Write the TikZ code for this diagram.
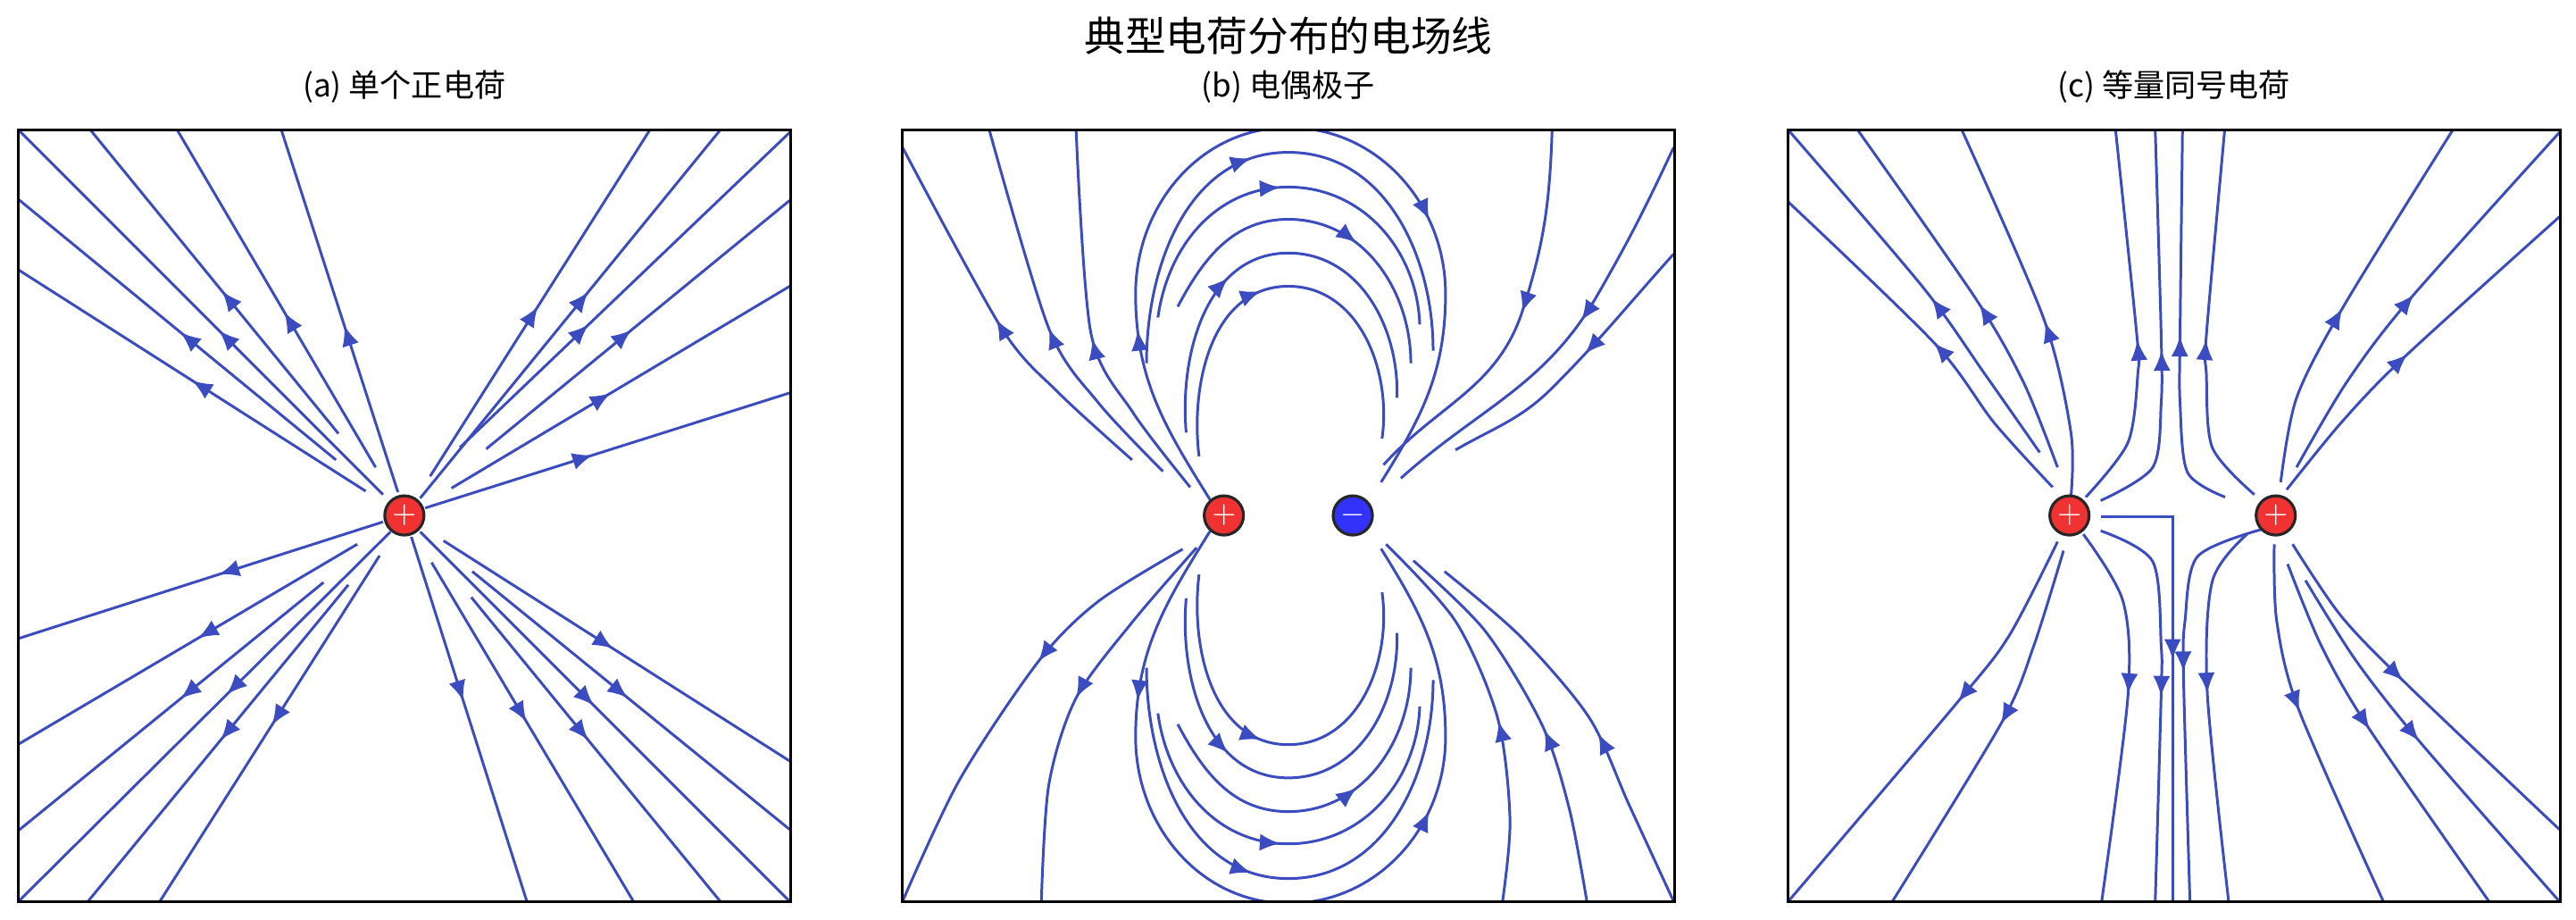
\documentclass[tikz,border=0pt]{standalone}
\usepackage{fontspec}
\usetikzlibrary{arrows.meta,decorations.markings}
\newfontfamily\cjk{Noto Sans CJK SC}
\definecolor{fieldblue}{RGB}{59,76,192}
\definecolor{posred}{RGB}{240,50,50}
\definecolor{negblue}{RGB}{50,50,250}
\tikzset{
  fl/.style={draw=fieldblue, line width=0.85pt,
    postaction={decorate, decoration={markings,
      mark=at position #1 with {\arrow{Latex[length=6.5pt,width=5.5pt]}}}}},
  fltwo/.style 2 args={draw=fieldblue, line width=0.85pt,
    postaction={decorate, decoration={markings,
      mark=at position #1 with {\arrow{Latex[length=6.5pt,width=5.5pt]}},
      mark=at position #2 with {\arrow{Latex[length=6.5pt,width=5.5pt]}}}}},
  charge/.style={circle, draw=black!85, line width=0.9pt, minimum size=0.44cm,
    inner sep=0pt, text=white, font=\bfseries},
  panel/.style={x=0.0055556cm, y=-0.0055556cm},
  title/.style={font=\cjk\fontsize{10}{12}\selectfont},
}
\begin{document}
\begin{tikzpicture}
  \useasboundingbox (0,0) rectangle (28.85,10.30);
  \node[font=\cjk\fontsize{13}{15}\selectfont] (maintitle) at (14.43,9.90) {典型电荷分布的电场线};

  % (a) single positive charge
  \begin{scope}[shift={(0.18cm,8.90cm)}, panel]
    \begin{scope}
      \clip (5,10) rectangle (1562,1565);
      \foreach \sx/\sy/\ex/\ey/\p in {
          705/738/5/292/.5, 645/675/5/150/.49, 650/622/150/10/.47,
          740/745/5/10/.45, 725/690/325/10/.46, 770/740/535/10/.46,
          835/708/1278/10/.49, 815/752/1420/10/.56, 895/650/1560/15/.39,
          948/653/1560/152/.48, 878/732/1560/325/.47, 825/772/1560/540/.46,
          740/800/5/1035/.45, 688/845/5/1248/.47, 620/922/5/1422/.47,
          755/820/5/1565/.44, 670/927/145/1565/.49, 733/868/290/1565/.49,
          797/830/1030/1565/.45, 838/882/1245/1565/.47, 918/952/1420/1565/.47,
          815/820/1560/1565/.47, 920/900/1560/1420/.49, 862/838/1560/1282/.49}
        \draw[fl=\p] (\sx,\sy) -- (\ex,\ey);
    \end{scope}
    \draw[line width=0.8pt] (5,10) rectangle (1562,1565);
    \node[charge, fill=posred] (qa) at (783,787) {$+$};
    \node[title] (tita) at (783,-77) {(a) 单个正电荷};
  \end{scope}

  % (b) dipole
  \begin{scope}[shift={(10.08cm,8.90cm)}, panel]
    \begin{scope}
      \clip (5,10) rectangle (1562,1565);
      % outward from +, top left
      \draw[fl=.5] plot[smooth] coordinates {(468,675) (320,540) (205,410) (5,45)};
      \draw[fl=.47] plot[smooth] coordinates {(530,698) (400,560) (300,410) (180,10)};
      \draw[fl=.46] plot[smooth] coordinates {(585,730) (470,580) (385,420) (355,10)};
      % into -, top right
      \draw[fl=.47] (1315,10) to[out=268,in=72] (1255,375) to[out=252,in=48] (975,685);
      \draw[fl=.45] (1560,45) to[out=245,in=60] (1405,345) to[out=240,in=42] (1010,712);
      \draw[fl=.45] (1560,260) to[out=228,in=45] (1315,530) to[out=225,in=30] (1120,655);
      % outward from +, bottom left
      \draw[fl=.4] plot[smooth] coordinates {(570,855) (400,960) (280,1080) (120,1320) (5,1565)};
      \draw[fl=.48] plot[smooth] coordinates {(598,852) (470,1000) (355,1155) (300,1330) (285,1565)};
      % into -, bottom right
      \draw[fl=.46] plot[smooth] coordinates {(1215,1565) (1230,1400) (1205,1195) (1120,1000) (980,845)};
      \draw[fl=.45] plot[smooth] coordinates {(1385,1565) (1350,1380) (1295,1210) (1180,1020) (1035,878)};
      \draw[fl=.45] plot[smooth] coordinates {(1560,1565) (1470,1370) (1390,1195) (1250,1030) (1098,900)};
      % closed loops, upper half then mirrored
      \foreach \half in {1,-1} {
        \begin{scope}[yscale=\half, shift={(0,{(\half-1)*787})}]
          \draw[fl=.45] (603,668) to[out=97,in=180] (783,325) to[out=0,in=82] (972,632);
          \draw[fl=.38] (577,620) to[out=95,in=180] (783,258) to[out=0,in=88] (1002,550);
          \draw[fl=.62] (560,366) to[out=62,in=180] (783,190) to[out=0,in=90] (1030,480);
          \draw[fl=.47] (520,388) to[out=82,in=180] (783,125) to[out=0,in=92] (1048,402);
          \draw[fl=.44] (497,480) to[out=90,in=180] (783,55) to[out=0,in=90] (1075,455);
          \draw[fltwo={.2}{.7}] (625,755) to[out=122,in=270] (475,340) to[out=90,in=180]
            (783,5) to[out=0,in=90] (1100,340) to[out=270,in=58] (970,720);
        \end{scope}
      }
    \end{scope}
    \draw[line width=0.8pt] (5,10) rectangle (1562,1565);
    \node[charge, fill=posred] (qbp) at (653,787) {$+$};
    \node[charge, fill=negblue] (qbn) at (913,787) {$-$};
    \node[title] (titb) at (783,-77) {(b) 电偶极子};
  \end{scope}

  % (c) two equal positive charges
  \begin{scope}[shift={(20.00cm,8.90cm)}, panel]
    \begin{scope}
      \clip (5,10) rectangle (1562,1565);
      % left charge
      \draw[fl=.48] plot[smooth] coordinates {(538,730) (420,600) (300,440) (5,155)};
      \draw[fl=.46] plot[smooth] coordinates {(512,660) (400,500) (275,325) (5,10)};
      \draw[fl=.46] plot[smooth] coordinates {(548,690) (480,520) (383,350) (145,10)};
      \draw[fl=.46] plot[smooth] coordinates {(575,750) (575,620) (520,390) (355,10)};
      \draw[fl=.45] plot[smooth] coordinates {(605,750) (690,640) (710,500) (708,425) (665,10)};
      \draw[fl=.45] plot[smooth] coordinates {(635,757) (740,690) (757,560) (757,425) (745,10)};
      \draw[fl=.47] (635,790) -- (780,790) -- (780,1565);
      \draw[fl=.49] plot[smooth] coordinates {(635,818) (740,880) (757,1050) (757,1145) (745,1565)};
      \draw[fl=.45] plot[smooth] coordinates {(600,825) (680,960) (690,1150) (637,1565)};
      \draw[fl=.47] plot[smooth] coordinates {(560,858) (500,1050) (435,1205) (215,1565)};
      \draw[fl=.42] plot[smooth] coordinates {(548,840) (450,1030) (345,1165) (5,1565)};
      % right charge
      \draw[fl=.47] plot[smooth] coordinates {(886,750) (810,700) (795,560) (795,425) (800,10)};
      \draw[fl=.45] plot[smooth] coordinates {(945,745) (860,650) (848,500) (848,425) (885,10)};
      \draw[fl=.47] plot[smooth] coordinates {(998,720) (1030,550) (1125,365) (1345,10)};
      \draw[fl=.49] plot[smooth] coordinates {(1030,690) (1130,520) (1255,355) (1560,15)};
      \draw[fl=.47] plot[smooth] coordinates {(1010,735) (1120,600) (1245,470) (1560,185)};
      \draw[fl=.45] plot[smooth] coordinates {(960,815) (830,870) (805,1000) (802,1110) (815,1565)};
      \draw[fl=.45] plot[smooth] coordinates {(930,825) (860,920) (850,1145) (893,1565)};
      \draw[fl=.45] plot[smooth] coordinates {(985,845) (990,1000) (1035,1180) (1205,1565)};
      \draw[fl=.47] plot[smooth] coordinates {(1012,885) (1080,1050) (1175,1215) (1418,1565)};
      \draw[fl=.48] plot[smooth] coordinates {(1048,918) (1150,1080) (1280,1245) (1560,1565)};
      \draw[fl=.45] plot[smooth] coordinates {(1022,845) (1120,990) (1255,1130) (1560,1420)};
    \end{scope}
    \draw[line width=0.8pt] (5,10) rectangle (1562,1565);
    \node[charge, fill=posred] (qcl) at (572,787) {$+$};
    \node[charge, fill=posred] (qcr) at (988,787) {$+$};
    \node[title] (titc) at (783,-77) {(c) 等量同号电荷};
  \end{scope}
\end{tikzpicture}
\end{document}
